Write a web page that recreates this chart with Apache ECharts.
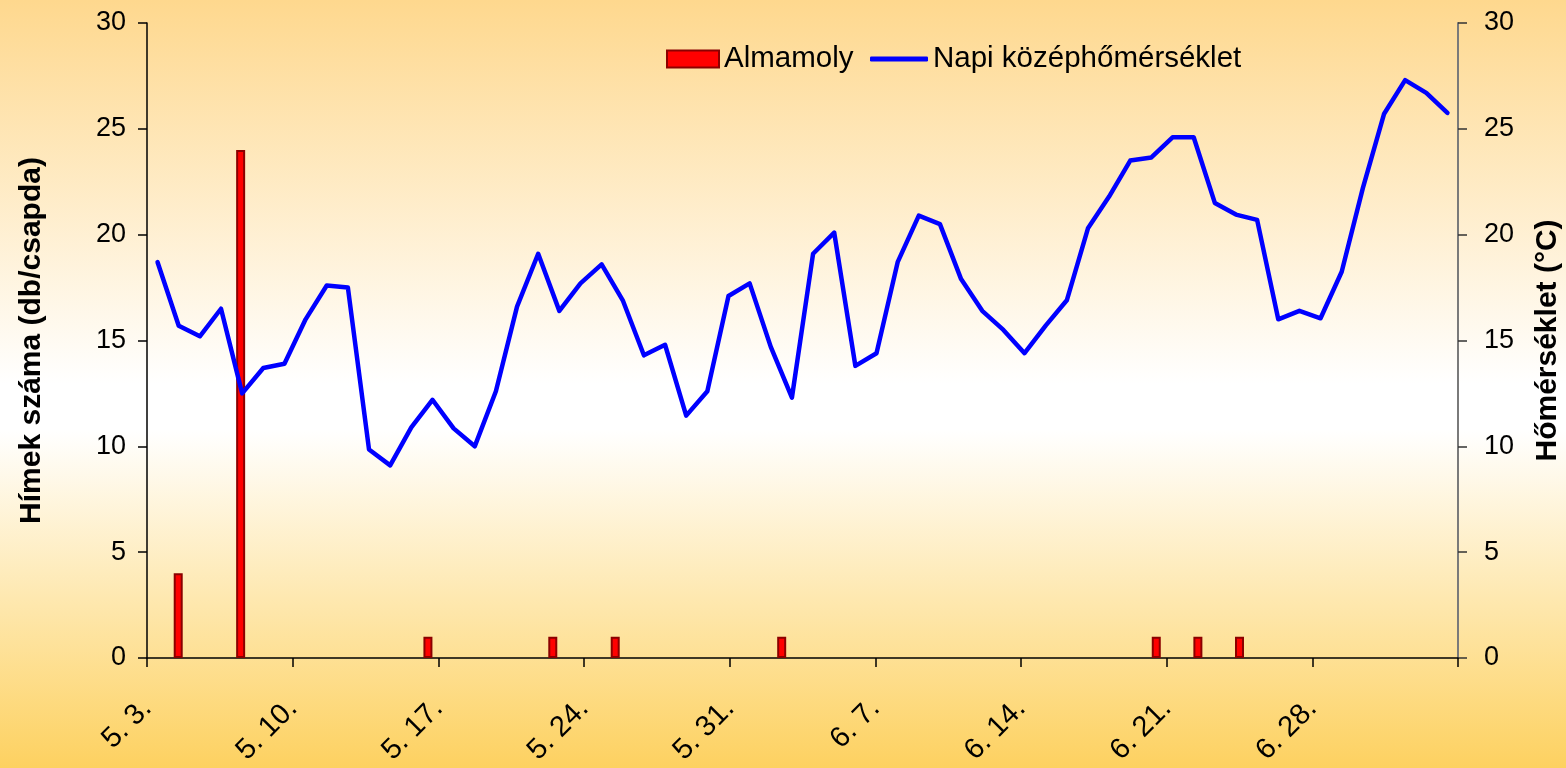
<!DOCTYPE html>
<html>
<head>
<meta charset="utf-8">
<script src="https://cdn.jsdelivr.net/npm/echarts@6/dist/echarts.min.js"></script>
<style>
  html, body { margin: 0; padding: 0; }
  #chart { width: 1566px; height: 768px; }
</style>
</head>
<body>
<div id="chart"></div>
<script>
// trap season: 63 days starting 5. 3. (primary date axis)
var startMonth = 5, startDay = 3, dayCount = 63;
var labelStep = 7; // one date label per week

// Almamoly catches (db/csapda) on the days it was checked
var mothDates = ['5. 4.', '5. 7.', '5. 16.', '5. 22.', '5. 25.', '6. 2.', '6. 20.', '6. 22.', '6. 24.'];
var mothCounts = [4, 24, 1, 1, 1, 1, 1, 1, 1];

// daily mean temperature (°C), 62 days on the secondary axis
var tempValues = [
  18.7, 15.7, 15.2, 16.5, 12.5, 13.7, 13.9, 16.0, 17.6, 17.5,
  9.85, 9.1, 10.9, 12.2, 10.85, 10.0, 12.6, 16.6, 19.1, 16.4,
  17.7, 18.6, 16.9, 14.3, 14.8, 11.45, 12.6, 17.1, 17.7, 14.7,
  12.3, 19.1, 20.1, 13.8, 14.4, 18.7, 20.9, 20.5, 17.9, 16.4,
  15.5, 14.4, 15.7, 16.9, 20.3, 21.8, 23.5, 23.65, 24.6, 24.6,
  21.5, 20.95, 20.7, 16.0, 16.4, 16.05, 18.25, 22.2, 25.7, 27.3,
  26.7, 25.75
];

function dayLabels(n) {
  var out = [];
  var d = new Date(2000, startMonth - 1, startDay);
  for (var i = 0; i < n; i++) {
    out.push((d.getMonth() + 1) + '. ' + d.getDate() + '.');
    d.setDate(d.getDate() + 1);
  }
  return out;
}

var dateCats = dayLabels(dayCount);
var tempCats = dayLabels(tempValues.length);

var mothData = dateCats.map(function (c) {
  var k = mothDates.indexOf(c);
  return k >= 0 ? mothCounts[k] : '-';
});

var font = 'Liberation Sans, Arial, sans-serif';
var chart = echarts.init(document.getElementById('chart'));

var legendText = { fontSize: 29.5, color: '#000', fontFamily: font };

var option = {
  animation: false,
  backgroundColor: new echarts.graphic.LinearGradient(0, 0, 0, 1, [
    { offset: 0, color: '#FED88E' },
    { offset: 0.5, color: '#FFFFFF' },
    { offset: 0.56, color: '#FFFFFF' },
    { offset: 1, color: '#FDD160' }
  ]),
  textStyle: { fontFamily: font },
  grid: { left: 147, right: 108, top: 23, bottom: 110, outerBoundsMode: 'none' },
  legend: [
    {
      left: 666,
      top: 44,
      padding: 0,
      itemWidth: 52,
      itemHeight: 17,
      textStyle: legendText,
      data: [{ name: 'Almamoly', icon: 'rect' }]
    },
    {
      left: 870,
      top: 44,
      padding: 0,
      itemWidth: 58,
      itemHeight: 5,
      textStyle: legendText,
      data: [{ name: 'Napi középhőmérséklet', icon: 'roundRect' }]
    }
  ],
  xAxis: [
    {
      // day categories for the catches
      type: 'category',
      position: 'bottom',
      data: dateCats,
      boundaryGap: true,
      axisLine: { show: false },
      axisTick: { show: false },
      axisLabel: { show: false },
      splitLine: { show: false }
    },
    {
      // hidden axis of the temperature line
      type: 'category',
      position: 'bottom',
      data: tempCats,
      boundaryGap: true,
      show: false
    },
    {
      // visible date scale: weekly ticks with labels at the tick marks
      type: 'value',
      position: 'bottom',
      offset: 0,
      min: 0,
      max: dayCount,
      interval: labelStep,
      axisLine: { show: true, onZero: false, lineStyle: { color: '#000', width: 1.5 } },
      axisTick: { show: true, length: 9, lineStyle: { color: '#000', width: 1.5 } },
      axisLabel: {
        rotate: 45,
        margin: 46,
        fontSize: 29,
        color: '#000',
        fontFamily: font,
        showMaxLabel: true,
        formatter: function (v) { return dateCats[v] || ''; }
      },
      splitLine: { show: false }
    }
  ],
  yAxis: [
    {
      type: 'value',
      min: 0,
      max: 30,
      interval: 5,
      name: 'Hímek száma (db/csapda)',
      nameLocation: 'middle',
      nameRotate: 90,
      nameGap: 100,
      nameTextStyle: { fontSize: 30, fontWeight: 'bold', color: '#000', fontFamily: font },
      axisLine: { show: true, lineStyle: { color: '#000', width: 1.5 } },
      axisTick: { show: true, length: 9, lineStyle: { color: '#000', width: 1.5 } },
      axisLabel: { fontSize: 27, margin: 21, color: '#000', fontFamily: font },
      splitLine: { show: false }
    },
    {
      type: 'value',
      position: 'right',
      min: 0,
      max: 30,
      interval: 5,
      name: 'Hőmérséklet (°C)',
      nameLocation: 'middle',
      nameRotate: 90,
      nameGap: 75,
      nameTextStyle: { fontSize: 30, fontWeight: 'bold', color: '#000', fontFamily: font },
      axisLine: { show: true, lineStyle: { color: '#7a7a7a', width: 2 } },
      axisTick: { show: true, length: 9, lineStyle: { color: '#333', width: 1.5 } },
      axisLabel: { fontSize: 27, margin: 26, color: '#000', fontFamily: font },
      splitLine: { show: false }
    }
  ],
  series: [
    {
      name: 'Almamoly',
      type: 'bar',
      xAxisIndex: 0,
      yAxisIndex: 0,
      barWidth: 9,
      itemStyle: { color: '#FF0000', borderColor: '#8B0000', borderWidth: 2 },
      data: mothData
    },
    {
      name: 'Napi középhőmérséklet',
      type: 'line',
      xAxisIndex: 1,
      yAxisIndex: 1,
      symbol: 'none',
      lineStyle: { color: '#0000FF', width: 4.5, cap: 'round', join: 'round' },
      itemStyle: { color: '#0000FF' },
      data: tempValues
    }
  ]
};

option && chart.setOption(option);
</script>
</body>
</html>
